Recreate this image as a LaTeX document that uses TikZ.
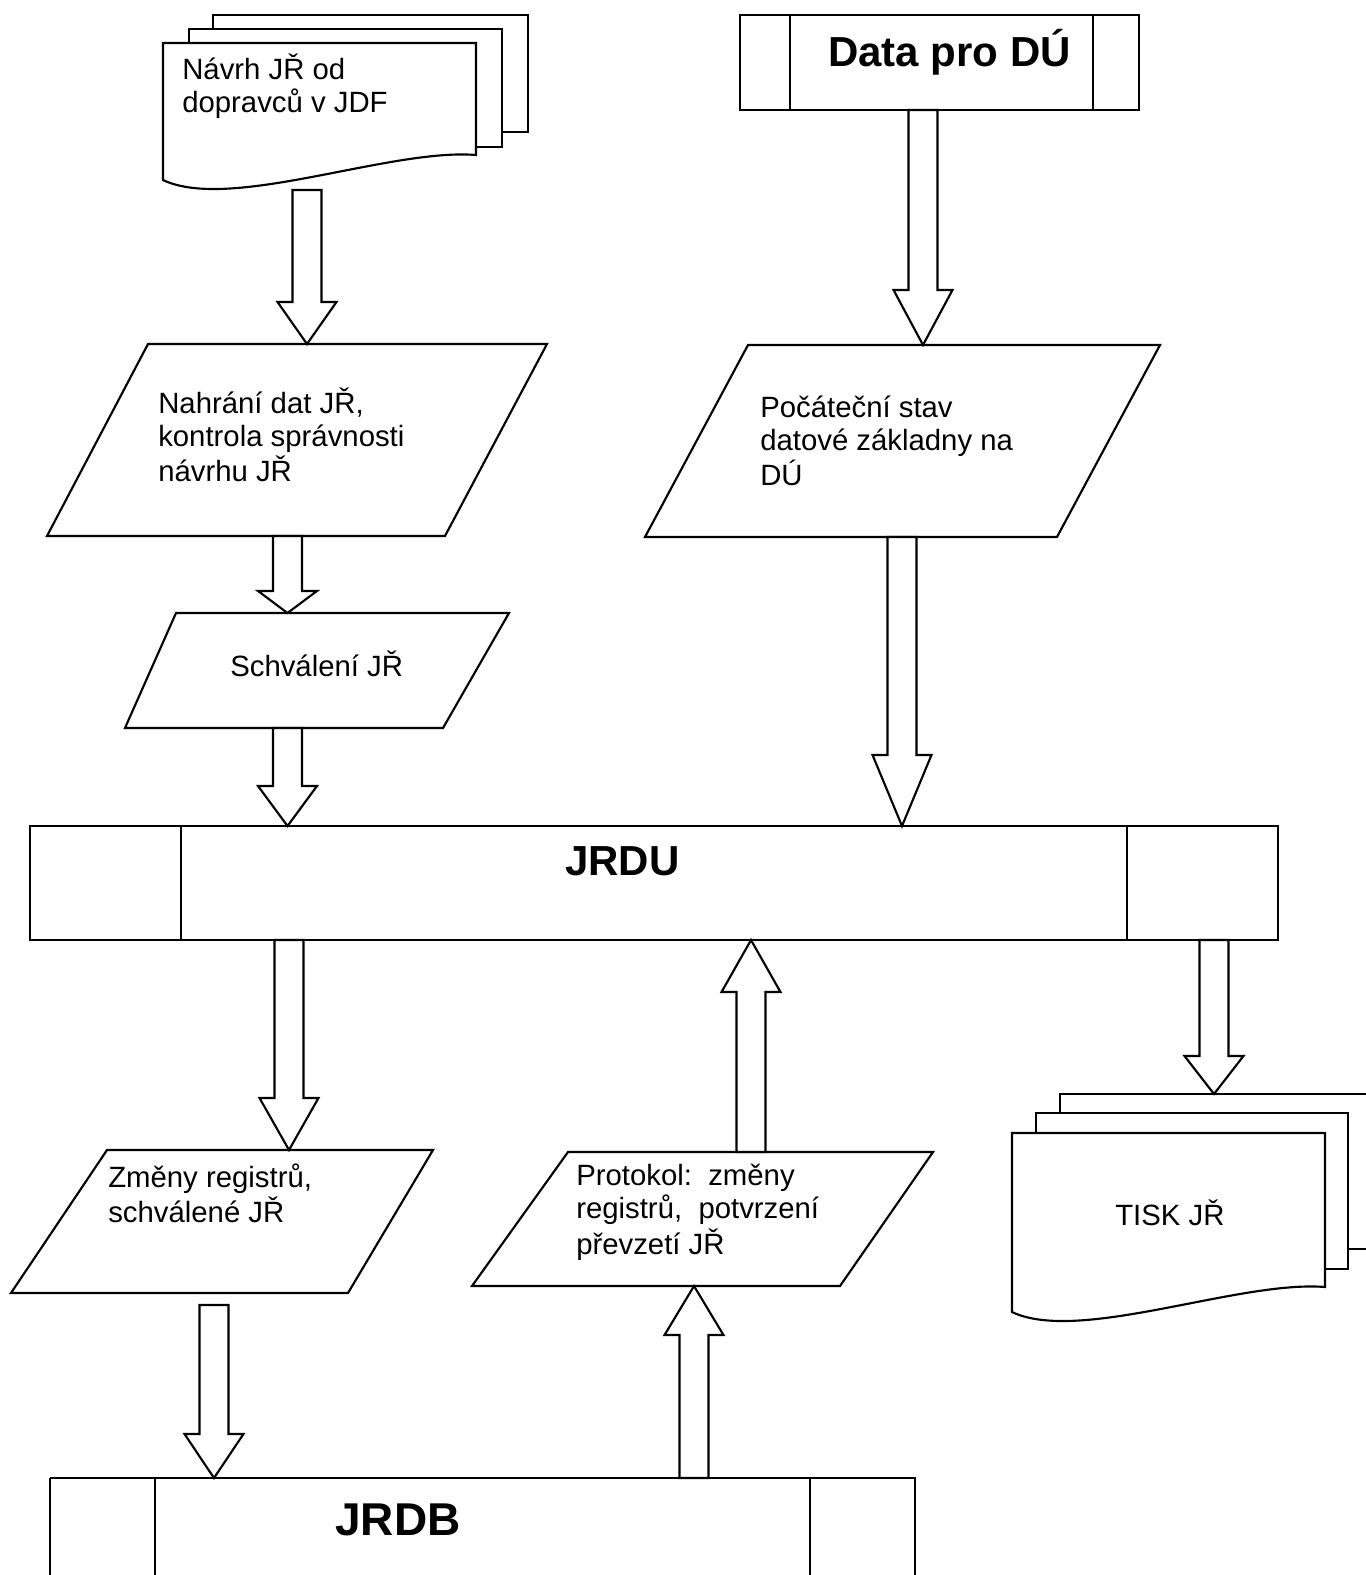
\documentclass[tikz,border=0pt]{standalone}
\usepackage{fontspec}
\setmainfont{Liberation Sans}
\usetikzlibrary{calc}
\newcommand\barrow[3]{%
  \coordinate (hbtmp) at ($(#3)!#1!(#2)$);
  \draw[barrowline] ($(#2)!10.9pt!90:(#3)$) -- ($(hbtmp)!10.9pt!-90:(#2)$)
    -- ($(hbtmp)!22.1pt!-90:(#2)$) -- (#3) -- ($(hbtmp)!22.1pt!90:(#2)$)
    -- ($(hbtmp)!10.9pt!90:(#2)$) -- ($(#2)!10.9pt!-90:(#3)$) -- cycle;
}
\begin{document}
\begin{tikzpicture}[x=0.75pt,y=-0.75pt,
  shapeline/.style={draw=black,line width=1.6pt,fill=white,line join=miter},
  innerline/.style={draw=black,line width=1.6pt},
  barrowline/.style={draw=black,line width=1.6pt,fill=white,line join=miter},
  txt/.style={anchor=base west,inner sep=0pt,font=\fontsize{22}{25}\selectfont},
  bigtxt/.style={anchor=base west,inner sep=0pt,font=\fontsize{31.5}{36}\selectfont\bfseries},
  hugetxt/.style={anchor=base west,inner sep=0pt,font=\fontsize{34.5}{40}\selectfont\bfseries}]
\useasboundingbox[fill=white] (0,0) rectangle (1366,1575);

% ---------- document stack: Navrh JR
\path[shapeline] (213,15) rectangle (528,132);
\path[shapeline] (189,29) rectangle (502,147);
\path[shapeline] (163,43) -- (476,43) -- (476,155)
   .. controls (390,148) and (230,212) .. (163,180) -- cycle;
\node[txt] (navrh) at (182,79) {\begin{tabular}[t]{@{}l@{}}Návrh JŘ od\\dopravců v JDF\end{tabular}};
\coordinate (navrhS) at (307,190);

% ---------- Data pro DU
\path[shapeline] (740,15) rectangle (1139,110);
\draw[innerline] (790,15) -- (790,110) (1093,15) -- (1093,110);
\node[bigtxt] (data) at (828,66) {Data pro DÚ};
\coordinate (dataS) at (923,110);

% ---------- parallelogram: Nahrani
\path[shapeline] (148,344) -- (547,344) -- (445,536) -- (47,536) -- cycle;
\node[txt] (nahrani) at (158,413) {\begin{tabular}[t]{@{}l@{}}Nahrání dat JŘ,\\kontrola správnosti\\návrhu JŘ\end{tabular}};
\coordinate (nahraniN) at (307,344);
\coordinate (nahraniS) at (287.5,536);

% ---------- parallelogram: Pocatecni stav
\path[shapeline] (748,345) -- (1160,345) -- (1057,537) -- (645,537) -- cycle;
\node[txt] (pocatek) at (760,417) {\begin{tabular}[t]{@{}l@{}}Počáteční stav\\datové základny na\\DÚ\end{tabular}};
\coordinate (pocatekN) at (923,345);
\coordinate (pocatekS) at (902,537);

% ---------- parallelogram: Schvaleni
\path[shapeline] (176,613) -- (509,613) -- (443,728) -- (125,728) -- cycle;
\node[txt] (schval) at (230,676) {Schválení JŘ};
\coordinate (schvalN) at (287.5,613);
\coordinate (schvalS) at (287.5,728);

% ---------- JRDU
\path[shapeline] (30,826) rectangle (1278,940);
\draw[innerline] (181,826) -- (181,940) (1127,826) -- (1127,940);
\node[bigtxt] (jrdu) at (565,875) {JRDU};
\coordinate (jrduA) at (287.5,826);
\coordinate (jrduB) at (902,826);
\coordinate (jrduC) at (289,940);
\coordinate (jrduD) at (751,940);
\coordinate (jrduE) at (1214,940);

% ---------- parallelogram: Zmeny registru
\path[shapeline] (107,1150) -- (433,1150) -- (348,1293) -- (11,1293) -- cycle;
\node[txt] (zmeny) at (108,1187) {\begin{tabular}[t]{@{}l@{}}Změny registrů,\\schválené JŘ\end{tabular}};
\coordinate (zmenyN) at (289,1150);
\coordinate (zmenyS) at (214,1305);

% ---------- parallelogram: Protokol
\path[shapeline] (568,1152) -- (933,1152) -- (840,1286) -- (472,1286) -- cycle;
\node[txt] (protokol) at (576,1185) {\begin{tabular}[t]{@{}l@{}}Protokol:\ \ změny\\registrů,\ \ potvrzení\\převzetí JŘ\end{tabular}};
\coordinate (protokolN) at (751,1152);
\coordinate (protokolS) at (694,1286);

% ---------- document stack: TISK JR
\path[shapeline] (1060,1094) rectangle (1375,1249);
\path[shapeline] (1036,1113) rectangle (1348,1269);
\path[shapeline] (1012,1133) -- (1325,1133) -- (1325,1287)
   .. controls (1239,1280) and (1079,1344) .. (1012,1312) -- cycle;
\node[txt] (tisk) at (1115,1225) {TISK JŘ};
\coordinate (tiskN) at (1214,1094);

% ---------- JRDB
\path[shapeline] (50,1478) -- (50,1600) (50,1478) -- (915,1478) -- (915,1600);
\draw[innerline] (155,1478) -- (155,1600) (810,1478) -- (810,1600);
\node[hugetxt] (jrdb) at (335,1535) {JRDB};
\coordinate (jrdbA) at (214,1478);
\coordinate (jrdbB) at (694,1478);

% ---------- block arrows
\barrow{31.5pt}{navrhS}{nahraniN}
\barrow{16.5pt}{nahraniS}{schvalN}
\barrow{30pt}{schvalS}{jrduA}
\barrow{41.25pt}{dataS}{pocatekN}
\barrow{53.25pt}{pocatekS}{jrduB}
\barrow{39pt}{jrduC}{zmenyN}
\barrow{39pt}{protokolN}{jrduD}
\barrow{28.5pt}{jrduE}{tiskN}
\barrow{33pt}{zmenyS}{jrdbA}
\barrow{36.75pt}{jrdbB}{protokolS}
\end{tikzpicture}
\end{document}
